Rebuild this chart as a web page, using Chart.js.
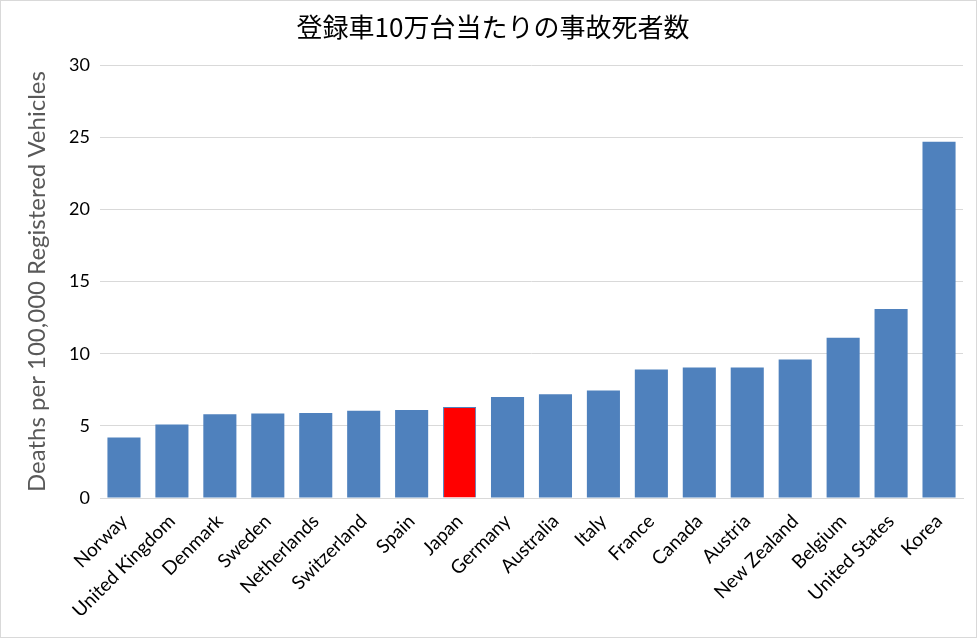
<!DOCTYPE html>
<html>
<head>
<meta charset="utf-8">
<script src="https://cdn.jsdelivr.net/npm/chart.js@4/dist/chart.umd.min.js"></script>
<style>
  html, body { margin: 0; padding: 0; background: #fff; }
  #wrap { position: relative; width: 975px; height: 636px; border: 1px solid #d9d9d9; }
</style>
</head>
<body>
<div id="wrap"><canvas id="chart"></canvas></div>
<script>
const countries = ['Norway', 'United Kingdom', 'Denmark', 'Sweden', 'Netherlands', 'Switzerland', 'Spain', 'Japan',
    'Germany', 'Australia', 'Italy', 'France', 'Canada', 'Austria', 'New Zealand', 'Belgium', 'United States', 'Korea'];
const deaths = [4.2, 5.1, 5.8, 5.85, 5.9, 6.05, 6.1, 6.3, 7.0, 7.2, 7.45, 8.9, 9.05, 9.05, 9.6, 11.1, 13.1, 24.7];
const highlight = 'Japan';

const blue = '#4f81bd';
const fontName = 'Lato, "Open Sans", sans-serif';

//Japan gets the red bar
const barColors = countries.map(c => c == highlight ? '#ff0000' : blue);
const borderWidths = countries.map(c => c == highlight ? 1 : 0);

const canvas = document.getElementById('chart');
new Chart(canvas, {
    type: 'bar',
    data: {
        labels: countries,
        datasets: [{
            data: deaths,
            backgroundColor: barColors,
            borderColor: blue,
            borderWidth: borderWidths,
            barPercentage: 0.69,
            categoryPercentage: 1.0
        }]
    },
    options: {
        responsive: true,
        maintainAspectRatio: false,
        animation: false,
        layout: { padding: { left: 22, right: 13, top: 0, bottom: 0 } },
        plugins: {
            legend: { display: false },
            tooltip: { enabled: false },
            title: {
                display: true,
                text: '登録車10万台当たりの事故死者数',
                color: '#000',
                font: { family: '"Noto Sans CJK JP", sans-serif', size: 26, weight: 'normal' },
                padding: { top: 11, bottom: 22 }
            }
        },
        scales: {
            x: {
                grid: { display: false },
                border: { display: true, color: '#d9d9d9' },
                ticks: {
                    color: '#000',
                    font: { family: fontName, size: 19 },
                    minRotation: 45,
                    maxRotation: 45,
                    autoSkip: false,
                    padding: 4
                },
                afterFit: scale => { scale.height = 139; }
            },
            y: {
                min: 0,
                max: 30,
                ticks: {
                    stepSize: 5,
                    color: '#000',
                    font: { family: fontName, size: 18 },
                    padding: 10
                },
                grid: { color: '#d9d9d9', drawTicks: false },
                border: { display: false },
                title: {
                    display: true,
                    text: 'Deaths per 100,000 Registered Vehicles',
                    color: '#595959',
                    font: { family: fontName, size: 24 },
                    padding: { top: 0, bottom: 4 }
                },
                afterFit: scale => { scale.width = 77; }
            }
        }
    }
});
</script>
</body>
</html>
